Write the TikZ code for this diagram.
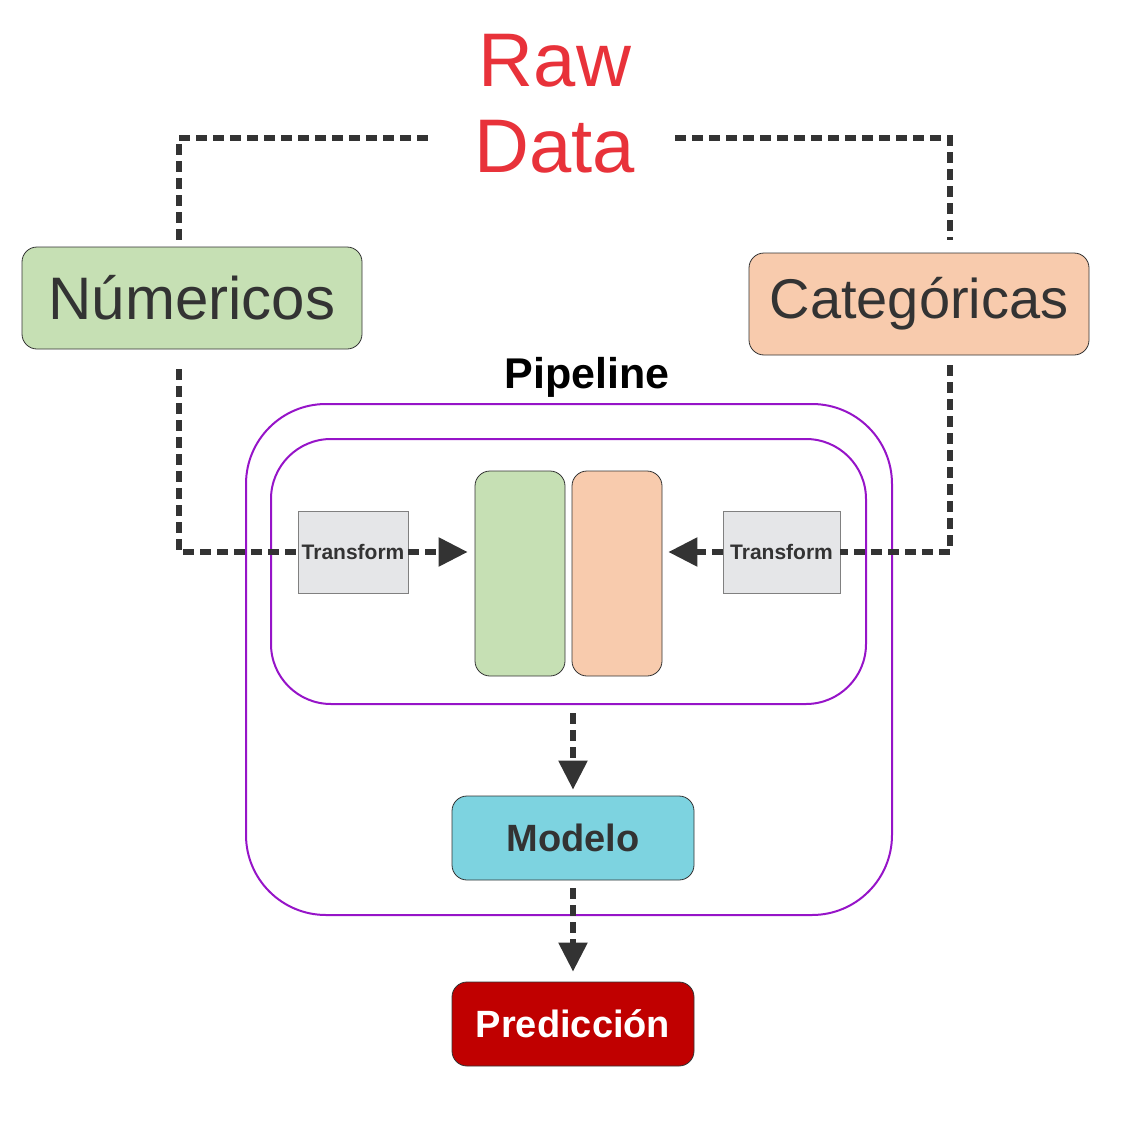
\documentclass[tikz,border=0pt]{standalone}
\usepackage{fontspec}
\setmainfont{Liberation Sans}
\usepackage{tikz}
\usetikzlibrary{positioning,arrows.meta,calc}
\definecolor{RawRed}{RGB}{232,50,58}
\definecolor{NumGreen}{RGB}{198,224,180}
\definecolor{CatOrange}{RGB}{248,203,173}
\definecolor{ModCyan}{RGB}{125,211,224}
\definecolor{PredRed}{RGB}{192,0,0}
\definecolor{TrGray}{RGB}{229,230,232}
\definecolor{InkDark}{RGB}{51,51,51}
\definecolor{PipePurple}{RGB}{150,20,200}

\begin{document}
\begin{tikzpicture}[
  x=1pt, y=-1pt,
  box/.style={draw=InkDark,line width=0.8pt,rounded corners=15pt,inner sep=0pt,text=InkDark},
  pbox/.style={draw=PipePurple,line width=2pt,inner sep=0pt},
  trbox/.style={draw=gray,fill=TrGray,line width=0.8pt,inner sep=0pt,text=InkDark,font=\fontsize{21}{24}\selectfont\bfseries},
  dline/.style={draw=InkDark,line width=5.5pt,dash pattern=on 11pt off 6pt},
  darrow/.style={dline,-{Triangle[length=29pt,width=28pt]}}
]
\useasboundingbox (0,0) rectangle (1144,1135);
% title
\node[text=RawRed,align=center,font=\fontsize{76}{86}\selectfont] (raw) at (555,104) {Raw\\Data};
% input groups
\node[box,fill=NumGreen,minimum width=340pt,minimum height=102pt,font=\fontsize{60}{70}\selectfont] (num) at (192,298) {Númericos};
\node[box,fill=CatOrange,minimum width=340pt,minimum height=102pt,font=\fontsize{56}{66}\selectfont] (cat) at (919,304) {Categóricas};
% pipeline
\node[pbox,minimum width=646pt,minimum height=511pt,rounded corners=80pt] (outer) at (569,659.5) {};
\node[pbox,minimum width=595pt,minimum height=265pt,rounded corners=60pt] (inner) at (568.5,571.5) {};
\node[font=\fontsize{43}{50}\selectfont\bfseries] (pipe) at (587,377) {Pipeline};
\node[box,fill=NumGreen,minimum width=90pt,minimum height=205pt] (gcol) at (520,573.5) {};
\node[box,fill=CatOrange,minimum width=90pt,minimum height=205pt] (ocol) at (617,573.5) {};
\node[trbox,minimum width=110pt,minimum height=82pt] (tl) at (353,552) {Transform};
\node[trbox,minimum width=117pt,minimum height=82pt] (tr) at (781.5,552) {Transform};
\node[box,fill=ModCyan,minimum width=242pt,minimum height=84pt,font=\fontsize{38}{44}\selectfont\bfseries] (model) at (573,838) {Modelo};
\node[box,fill=PredRed,text=white,minimum width=242pt,minimum height=84pt,font=\fontsize{38}{44}\selectfont\bfseries] (pred) at (573,1024) {Predicción};
% corners of the dashed lines
\coordinate (lx) at (179,138);
\coordinate (rx) at (950,138);
\coordinate (rawl) at (428,138);
\coordinate (rawr) at (675,138);
% connectors
\draw[dline,shorten <=7pt] (num.north -| lx) |- (rawl);
\draw[dline,shorten >=13pt] (rawr) -| (cat.north -| rx);
\draw[dline,shorten <=20pt] (num.south -| lx) |- (tl.west);
\draw[darrow,shorten >=7pt] (tl.east) -- (tl.east -| gcol.west);
\draw[dline,shorten <=10pt] (cat.south -| rx) |- (tr.east);
\draw[darrow,shorten >=6pt] (tr.west) -- (tr.west -| ocol.east);
\draw[darrow,shorten <=8pt,shorten >=6pt] (inner.south -| model.north) -- (model.north);
\draw[darrow,shorten <=8pt,shorten >=10pt] (model.south) -- (pred.north);
\end{tikzpicture}
\end{document}
